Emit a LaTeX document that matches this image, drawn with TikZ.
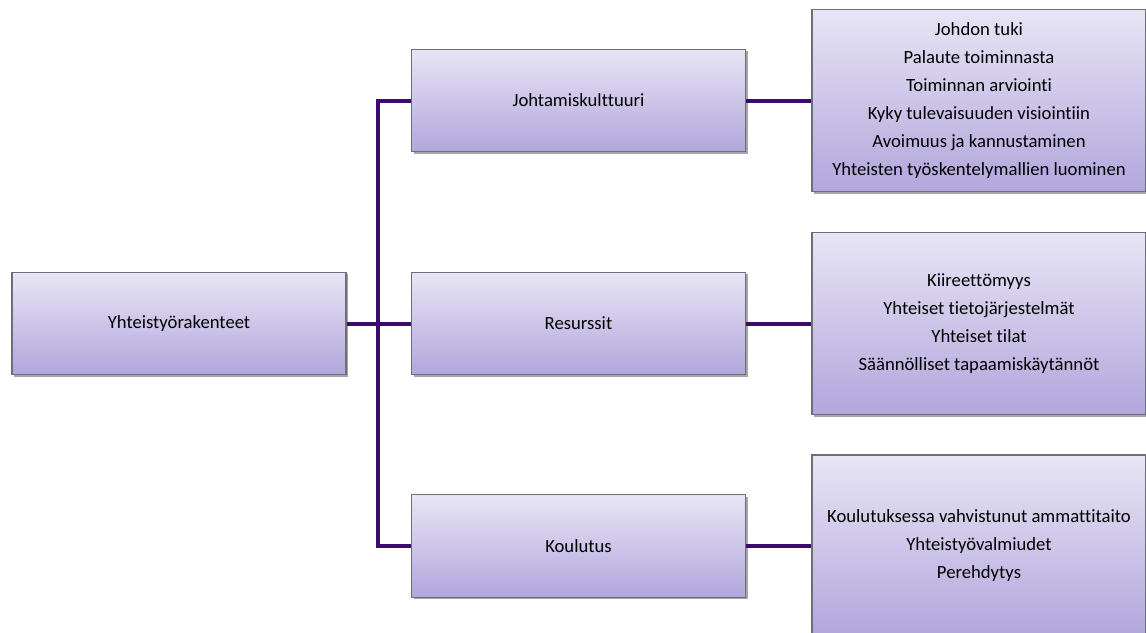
\documentclass[tikz,border=0pt]{standalone}
\usepackage{fontspec}
\setmainfont{Carlito}[Ligatures=NoCommon]
\usetikzlibrary{shadows}
\definecolor{boxtop}{HTML}{E8E5F5}
\definecolor{boxbottom}{HTML}{B2A6DC}
\definecolor{boxline}{HTML}{6E6E78}
\definecolor{linkline}{HTML}{3A0B6C}
\tikzset{
  box/.style={draw=boxline, line width=0.8pt, top color=boxtop, bottom color=boxbottom,
    minimum width=250.5pt, minimum height=77pt, align=center,
    font=\fontsize{14pt}{21pt}\selectfont,
    drop shadow={shadow xshift=1.5pt, shadow yshift=-1.5pt, fill=black, opacity=0.35}},
  listbox/.style={box, minimum height=136.5pt},
  link/.style={draw=linkline, line width=3pt}
}
\begin{document}
\begin{tikzpicture}[x=0.75pt,y=-0.75pt]
  \useasboundingbox (0,0) rectangle (1146,632);
  % main and sub headings
  \node[box] (root) at (179,323.5) {Yhteistyörakenteet};
  \node[box] (johto) at (578.5,100.5) {Johtamiskulttuuri};
  \node[box] (resurssit) at (578.5,323.5) {Resurssit};
  \node[box] (koulutus) at (578.5,546) {Koulutus};
  % lists on the right
  \node[listbox] (johtoList) at (979,100.5) {Johdon tuki\\Palaute toiminnasta\\Toiminnan arviointi\\Kyky tulevaisuuden visiointiin\\Avoimuus ja kannustaminen\\Yhteisten työskentelymallien luominen};
  \node[listbox] (resurssitList) at (979,323.5) {Kiireettömyys\\Yhteiset tietojärjestelmät\\Yhteiset tilat\\Säännölliset tapaamiskäytännöt};
  \node[listbox] (koulutusList) at (979,546) {Koulutuksessa vahvistunut ammattitaito\\Yhteistyövalmiudet\\Perehdytys};

  \coordinate (split) at (378,323.5);
  \draw[link] (root) -- (split);
  \draw[link] (johto.west) -| (split) |- (koulutus.west);
  \draw[link] (split) -- (resurssit);
  \draw[link] (johto) -- (johtoList);
  \draw[link] (resurssit) -- (resurssitList);
  \draw[link] (koulutus) -- (koulutusList);
\end{tikzpicture}
\end{document}
